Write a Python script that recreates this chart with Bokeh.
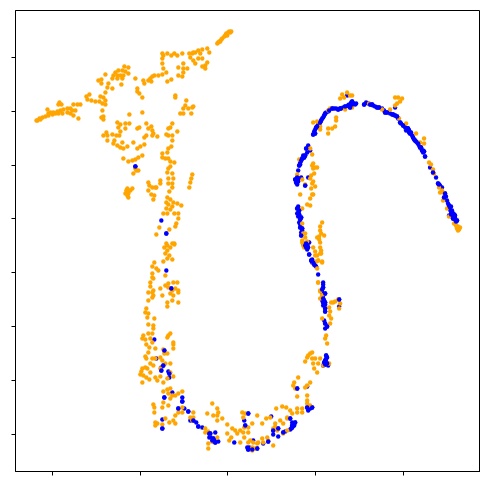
from bokeh.embed import file_html
from bokeh.resources import INLINE
from bokeh.models import ColumnDataSource, FixedTicker, Range1d
from bokeh.plotting import figure

x_ticks = [52, 140, 227, 315, 403]
y_ticks = [57, 111, 165, 218, 272, 326, 380, 434]

orange_tail = [(231,31),(228,32),(226,33),(224,36),(222,38),(218,42),(217,43),(220,41),(230,32),(227,35),(229,31),(225,35),(221,39),(219,41),
(162,53),(163,55),(167,53),(171,55),(174,53),(177,55),(182,53),(189,53),(192,53),(195,52),(198,50),(202,49),(207,48),(209,52),(190,57),(193,60),(195,63),(198,58),(202,58),(207,62),(205,65),(202,66),(205,68),(193,52),(200,53),
(162,58),(162,63),(163,68),(166,72),(183,63),(178,67),(183,68),(187,68),(183,72),(178,75),(182,76),
(143,80),(144,83),(148,80),(150,78),(152,76),(154,75),(158,75),(162,74),(167,81),(171,79),(151,81),(135,78),(137,88),(137,91),(139,93),(142,97),(175,95),(175,97)]
orange_upper_left = [(124,66),(128,67),(115,72),(118,70),(122,70),(125,71),(128,73),(113,75),(117,75),(120,75),(123,75),(112,78),(117,78),(122,78),(121,84),(105,74),(98,80),(101,79),(101,83),(112,88),(108,83),(107,87),(105,92),
(89,94),(86,96),(87,99),(91,100),(95,101),(99,101),(100,96),(103,97),(105,100),(102,103),(105,104),(102,110),(103,116),(101,117),(103,119),
(37,120),(39,118),(42,117),(45,116),(48,115),(47,109),(50,112),(53,112),(57,111),(60,110),(63,109),(67,108),(70,108),(73,104),(77,104),(80,104),(48,113),(52,114),(55,113),(58,113),(62,113),(67,112),(70,113),(73,115),(75,110),(78,118),(72,110),(59,102),(61,104),(58,104),(36,120),(40,119)]
orange_ring = [(117,122),(120,124),(125,123),(129,123),(129,114),(142,112),(118,127),(120,131),(125,128),(106,132),(103,135),(107,135),(112,134),(116,135),(119,135),(107,140),(114,140),(113,143),(117,145),(120,147),(123,148),(127,146),(122,142),(133,142),(137,128),(139,127),(146,123),(148,128),(151,126),(152,130),(153,133),(157,136),(152,135),(146,135),(144,137),(144,144),(140,146),(137,148),(142,155),(138,157),(135,159),(132,160),(128,161),(123,158),(135,168),(138,170),(133,173),(136,170),
(186,100),(185,105),(183,108),(180,113),(183,113),(188,108),(192,107),(191,113),(193,106)]
orange_column = [(172,123),(170,127),(168,128),(177,131),(166,134),(168,135),(172,135),(172,140),(171,146),(168,148),(167,152),(162,153),(162,157),(165,158),(168,158),(170,161),(174,162),(170,166),(168,168),(167,172),(172,173),(168,178),(173,178),(168,183),(172,183),(172,187),(169,191),
(192,174),(191,178),(190,182),(189,187),(160,180),(160,183),(148,182),(149,185),(148,190),(152,187),(155,187),(151,194),(154,195),(153,199),(156,187),
(127,188),(132,188),(128,190),(125,193),(128,193),(127,195),(128,197),(126,190),(130,190),
(167,197),(170,199),(173,202),(177,203),(181,205),(166,202),(168,204),(172,206),(166,208),(170,209),(163,213),(174,213),(178,213),(178,218),(176,223),(175,226),(169,229),(159,227),(156,234),(166,243),(172,243),(174,243),(167,213)]
orange_lower_left = [(174,244),(167,245),(164,247),(170,247),(167,250),(165,253),(169,255),(172,259),(163,261),(167,258),(154,262),(152,266),(156,268),(158,270),(152,273),(152,277),(153,278),(150,282),(150,286),(165,275),
(173,282),(177,282),(168,283),(165,285),(160,288),(162,295),(168,287),(172,290),(175,288),(178,290),(170,293),(173,295),(178,292),(148,292),(152,292),(153,295),(152,297),(148,300),(178,302),(172,300),(167,302),(167,306),(153,290),
(146,308),(145,312),(148,313),(147,317),(154,318),(148,324),(153,325),(153,328),(148,333),(152,333),(143,335),(142,338),(145,339),(150,338),(152,342),(146,344),(149,347),(170,333),(168,335),(167,337),(173,342),(173,344),(173,348),
(163,349),(155,348),(148,352),(145,356),(146,358),(152,358),(155,358),(160,357),(162,360),(164,353),(167,353),(170,363),(165,363),(150,363),(153,365),(145,367),(142,368),(141,371),(147,368),(150,372),(140,374),(143,375),(146,377),(149,379),(142,382),(155,377),(160,376),(157,380),(163,382),(167,378),(173,376),(170,372),(160,368)]
orange_bottom = [(170,388),(167,389),(163,391),(168,393),(172,395),(170,398),(175,395),(178,393),(182,391),(163,402),(168,405),(162,407),(153,404),(154,407),(154,412),(165,418),(169,422),(173,420),(175,423),(175,415),(178,412),(182,412),(182,407),(155,422),(157,423),(162,424),(155,425),
(193,412),(193,417),(190,417),(207,413),(212,403),(217,408),(218,412),(213,415),(217,415),(222,418),(217,420),(192,420),
(205,428),(208,431),(205,432),(210,433),(208,443),(212,441),(208,448),(217,437),
(227,424),(227,433),(231,437),(229,440),(232,428),(235,430),(240,430),(237,433),(244,427),(248,427),(243,432),(248,432),(252,423),(242,412),(245,413),(243,417),(240,442),(244,437),(250,440),(253,442),(257,443),(252,447),(255,448),(252,450),(248,442),
(257,415),(262,423),(266,418),(270,417),(276,408),(282,406),(286,407),(290,410),(292,413),(287,417),(280,420),(275,423),(273,428),(267,437),(273,445),(262,438),(263,442),(258,442),(268,440),(283,433),(287,430),(287,418),(297,408),(302,408),(302,412),(297,412),(277,430),(275,426),(283,423)]
orange_right_low = [(298,377),(294,382),(293,385),(295,388),(297,396),(305,387),(307,385),(310,382),(307,395),(307,400),(310,405),(307,403),
(307,357),(305,361),(310,353),(312,358),(315,358),(313,363),(314,368),(317,372),(323,365),(318,363),(329,363),(320,358),(312,352),(308,355),
(327,343),(325,338),(326,335),(330,323),(331,318),(329,315),(330,311),(329,307),(322,318),(318,282),(320,290),(322,295),(340,303),(339,308),(338,299),(333,302),(320,298),
(322,262),(318,260),(315,255),(320,253),(320,242),(302,242),(303,245),(317,268),(313,263)]
orange_arc = [(347,92),(342,94),(340,98),(344,97),(350,95),(352,95),(345,109),(352,107),(330,108),(328,110),(313,122),(317,121),(320,126),(320,129),(328,128),(332,128),(335,126),(336,117),(336,120),(328,133),
(369,103),(382,109),(390,109),(395,97),(398,97),(402,98),(400,101),(397,103),(395,105),(399,118),(406,123),(416,133),(424,138),(420,142),(424,143),
(429,162),(431,164),(433,169),(434,173),(439,187),(442,190),(443,192),(440,192),(443,200),(447,208),(449,216),(454,223),(457,227),(458,230),(460,227),(457,228),(456,225),(459,229),(458,226)]
orange_right_column = [(310,148),(312,154),(299,159),(297,174),(302,179),(313,163),(317,167),(313,168),(312,165),(315,167),(314,173),(311,175),(313,181),(310,178),(312,183),(311,188),(315,186),(305,184),(300,194),(312,194),(313,194),(310,198),(307,204),(310,205),(302,208),
(322,222),(320,226),(320,230),(319,236),(321,233),(324,235),(317,237),(319,239),(302,223),(303,233),(305,233),(305,237),(302,240),(307,241),(313,247),(315,251),(320,247),(321,250),(321,253),(317,255),(318,260),(322,261),(316,261),(304,247),
(318,282),(320,291),(322,295),(331,302),(335,301)]

blue_left = [(135,166),(161,220),(166,233),(166,270),(171,288),(154,339),(164,350),(156,358),(163,365),(161,367),(161,370),(168,371),(169,373),(169,377),(164,397),(172,392),(178,408),(182,397),(182,401),(184,408),(188,411),(162,419),(162,428)]
blue_bottom = [(190,420),(193,420),(196,422),(198,426),(202,427),(210,433),(209,437),(213,438),(215,432),(212,440),(218,441),(215,442),(234,442),
(248,413),(244,420),(245,425),(247,447),(248,448),(253,440),(257,448),(263,443),(268,441),(271,416),(273,430),(273,434),(278,428),(278,436),(283,432),(285,431),(290,418),(293,423),(292,427),(290,429),(295,422),(294,425),
(297,388),(307,386),(307,407),(308,410),(312,407),(310,408),(292,425),(291,428),(293,425),(292,422),(209,433),(210,436),(214,440),(213,441),(248,449),(249,447),(252,449)]
blue_right_low = [(327,357),(325,360),(323,365),(327,363),(328,365),(326,355),(326,358),(324,362),(326,361),(325,364),
(323,282),(323,287),(322,292),(325,293),(322,300),(325,302),(323,305),(325,311),(324,320),(325,323),(325,328),(327,326),(339,306),(339,299),(323,284),(322,289),(323,295),(323,298),(324,300),(323,302),(325,304),(325,308),
(309,242),(305,245),(307,249),(309,254),(312,259),(314,264),(318,274),(306,247),(316,266),(306,243),(304,244),(306,246),(308,247),(311,260),(312,262),(313,262),(315,265)]
blue_arc = [(313,134),(314,131),(316,127),(318,124),(321,120),(323,117),(325,113),(328,111),(332,108),(336,108),(340,108),(343,107),(348,105),(351,102),(353,103),(356,103),(350,107),(347,95),
(315,133),(315,129),(317,126),(319,122),(320,122),(322,118),(324,115),(326,112),(329,110),(334,108),(338,109),(341,108),(345,106),(349,104),(352,104),(355,104),(352,101),(349,106),
(364,104),(366,102),(370,104),(373,105),(377,107),(382,108),(385,112),(390,113),(395,115),(395,107),(400,122),(404,125),(408,128),(411,132),(413,137),(417,142),(420,147),(423,152),(425,156),(406,130),(409,130),(414,139),(422,150),(398,118),(393,114),
(368,103),(372,104),(375,106),(379,107),(384,110),(387,112),(392,114),(397,116),(401,123),(403,125),(405,127),(407,128),(409,132),(410,133),(412,135),(415,140),(416,141),(418,143),(419,145),(421,147),(423,150),(424,151),
(430,167),(433,172),(436,177),(438,183),(442,187),(445,193),(447,200),(450,207),(452,210),(453,213),(455,217),(457,220),(449,215),(453,218),(451,206),(454,214),(448,203),
(449,205),(450,209),(451,211),(452,213),(451,214),(453,215),(454,216),(455,219),(456,221),(452,216),(455,215),(446,196),(444,197),(440,185),(439,184)]
blue_right_column = [(308,145),(306,148),(307,152),(305,155),(310,150),(302,158),(300,162),(299,165),(298,170),(297,177),(301,177),(296,182),(297,184),(305,185),(308,177),
(304,157),(303,155),(301,160),(300,164),(298,178),(298,181),(295,179),
(298,206),(299,210),(297,213),(301,217),(299,222),(300,227),(301,232),(301,235),(303,243),(307,245),(308,242),(297,208),(298,212),(299,214),(298,216),(300,219),(300,224),(302,228),(302,230)]

orange = orange_tail + orange_upper_left + orange_ring + orange_column + orange_lower_left + orange_bottom + orange_right_low + orange_arc + orange_right_column
blue = blue_left + blue_bottom + blue_right_low + blue_arc + blue_right_column

p = figure(width=481, height=478, output_backend="svg", toolbar_location=None,
           x_range=Range1d(15, 480.5), y_range=Range1d(471, 10),
           min_border_left=15, min_border_right=0, min_border_top=10, min_border_bottom=7,
           frame_width=465, frame_height=461)
p.grid.visible = False
p.outline_line_color = "black"
p.outline_line_width = 1
p.background_fill_color = "white"
p.border_fill_color = "white"
for ax, ticks in ((p.xaxis[0], x_ticks), (p.yaxis[0], y_ticks)):
    ax.ticker = FixedTicker(ticks=ticks)
    ax.major_tick_in = 0
    ax.major_tick_out = 4
    ax.minor_tick_in = 0
    ax.minor_tick_out = 0
    ax.major_tick_line_color = "black"
    ax.major_tick_line_width = 1
    ax.axis_line_color = "black"
    ax.major_label_text_font_size = "0px"
    ax.major_label_text_color = None
    ax.major_label_standoff = 0
    ax.major_label_overrides = {t: "" for t in ticks}

o = ColumnDataSource(dict(x=[a for a, b in orange], y=[b for a, b in orange]))
b_ = ColumnDataSource(dict(x=[a for a, b in blue], y=[b for a, b in blue]))
p.scatter("x", "y", source=b_, size=4.4, color="blue", line_width=0)
p.scatter("x", "y", source=o, size=4.4, color="orange", line_width=0)
p.scatter("x", "y", source=ColumnDataSource(dict(x=b_.data["x"][::2], y=b_.data["y"][::2])), size=4.4, color="blue", line_width=0)

open("out.html", "w").write(file_html(p, INLINE))
